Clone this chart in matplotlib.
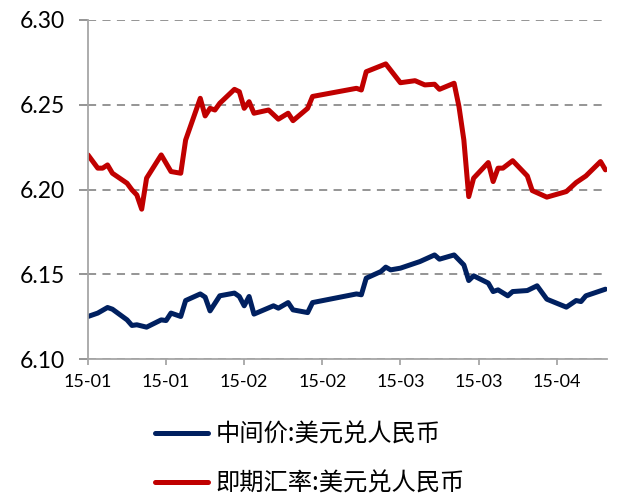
import numpy as np
import pandas as pd
import matplotlib
matplotlib.use('Agg')
from matplotlib import pyplot as plt
import matplotlib.dates as mdates

# day offsets from 2015-01-05 and USD/CNY quotes
start = pd.Timestamp('2015-01-05')

mid_days = [0, 2, 4, 5, 8, 9, 10, 12, 15, 16, 17, 19, 20, 23, 24, 25, 27, 30, 31, 32,
            33, 34, 38, 39, 41, 42, 45, 46, 55, 56, 57, 60, 61, 62, 64, 68, 71, 72, 75, 77,
            78, 79, 82, 83, 84, 86, 87, 90, 92, 94, 98, 100, 101, 102, 106]
mid_vals = [6.1251, 6.1271, 6.1304, 6.1294, 6.1231, 6.1198, 6.1202, 6.1188, 6.1231, 6.1227,
            6.1271, 6.1251, 6.1345, 6.1384, 6.1365, 6.1284, 6.1373, 6.1389, 6.1369, 6.1314,
            6.1369, 6.1265, 6.1314, 6.1300, 6.1333, 6.1290, 6.1274, 6.1333, 6.1384, 6.1379,
            6.1477, 6.1516, 6.1542, 6.1526, 6.1536, 6.1575, 6.1614, 6.1589, 6.1614, 6.1555,
            6.1463, 6.1491, 6.1448, 6.1398, 6.1408, 6.1373, 6.1398, 6.1404, 6.1432, 6.1353,
            6.1306, 6.1345, 6.1339, 6.1373, 6.1412]

spot_days = [0, 2, 3, 4, 5, 8, 9, 10, 11, 12, 15, 17, 19, 20, 23, 24, 25, 26, 27, 30,
             31, 32, 33, 34, 37, 39, 41, 42, 45, 46, 55, 56, 57, 61, 64, 67, 69, 71, 72, 75,
             76, 77, 78, 79, 82, 83, 84, 85, 87, 90, 91, 94, 98, 100, 102, 105, 106]
spot_vals = [6.2204, 6.2126, 6.2126, 6.2145, 6.2096, 6.2037, 6.1998, 6.1968, 6.1884, 6.2067,
             6.2204, 6.2106, 6.2096, 6.2292, 6.2538, 6.2434, 6.2479, 6.2469, 6.2509, 6.2591,
             6.2577, 6.2479, 6.2518, 6.2450, 6.2469, 6.2415, 6.2450, 6.2406, 6.2479, 6.2549,
             6.2597, 6.2587, 6.2695, 6.2741, 6.2630, 6.2642, 6.2617, 6.2621, 6.2591, 6.2627,
             6.2489, 6.2292, 6.1958, 6.2067, 6.2159, 6.2047, 6.2126, 6.2126, 6.2170, 6.2080,
             6.1994, 6.1955, 6.1988, 6.2041, 6.2080, 6.2165, 6.2116]

mid_label = '中间价:美元兑人民币'
spot_label = '即期汇率:美元兑人民币'

mid_dates = start + pd.to_timedelta(mid_days, unit='D')
spot_dates = start + pd.to_timedelta(spot_days, unit='D')

plt.rcParams['font.family'] = ['Lato', 'Noto Sans CJK SC', 'DejaVu Sans']

fig = plt.figure(figsize=(6.18, 4.95), dpi=100)
ax = fig.add_axes([0.1424, 0.2747, 0.8396, 0.6849])

ax.plot(mid_dates, mid_vals, color='#002060', lw=3.6, solid_capstyle='round',
        solid_joinstyle='round', label=mid_label)
ax.plot(spot_dates, spot_vals, color='#C00000', lw=3.6, solid_capstyle='round',
        solid_joinstyle='round', label=spot_label)

ax.set_ylim(6.10, 6.30)
ax.set_yticks([6.10, 6.15, 6.20, 6.25, 6.30])
ax.set_yticklabels(['6.10', '6.15', '6.20', '6.25', '6.30'])
ax.set_xlim(start, start + pd.Timedelta(days=106.3))
ax.set_xticks(start + pd.to_timedelta(np.arange(0, 106, 16), unit='D'))
ax.xaxis.set_major_formatter(mdates.DateFormatter('%y-%m'))

ax.grid(axis='y', color='#8c8c8c', ls=(0, (4.5, 3.5)), lw=1.3)
ax.set_axisbelow(True)
for s in ['top', 'right']:
    ax.spines[s].set_visible(False)
for s in ['left', 'bottom']:
    ax.spines[s].set_color('#a6a6a6')
    ax.spines[s].set_linewidth(1.3)
ax.tick_params(axis='y', length=6.5, width=1.3, color='#8c8c8c', labelsize=16.5, pad=10)
ax.tick_params(axis='x', length=4.5, width=1.3, color='#a6a6a6', labelsize=13, pad=6)

fig.legend(loc='upper left', bbox_to_anchor=(0.25, 0.148), frameon=False,
           borderpad=0, borderaxespad=0, handlelength=2.2, handletextpad=0.3,
           labelspacing=0.92, prop={'family': ['Noto Sans CJK SC', 'DejaVu Sans'], 'size': 17.5})

fig.savefig('out.png', dpi=100)
